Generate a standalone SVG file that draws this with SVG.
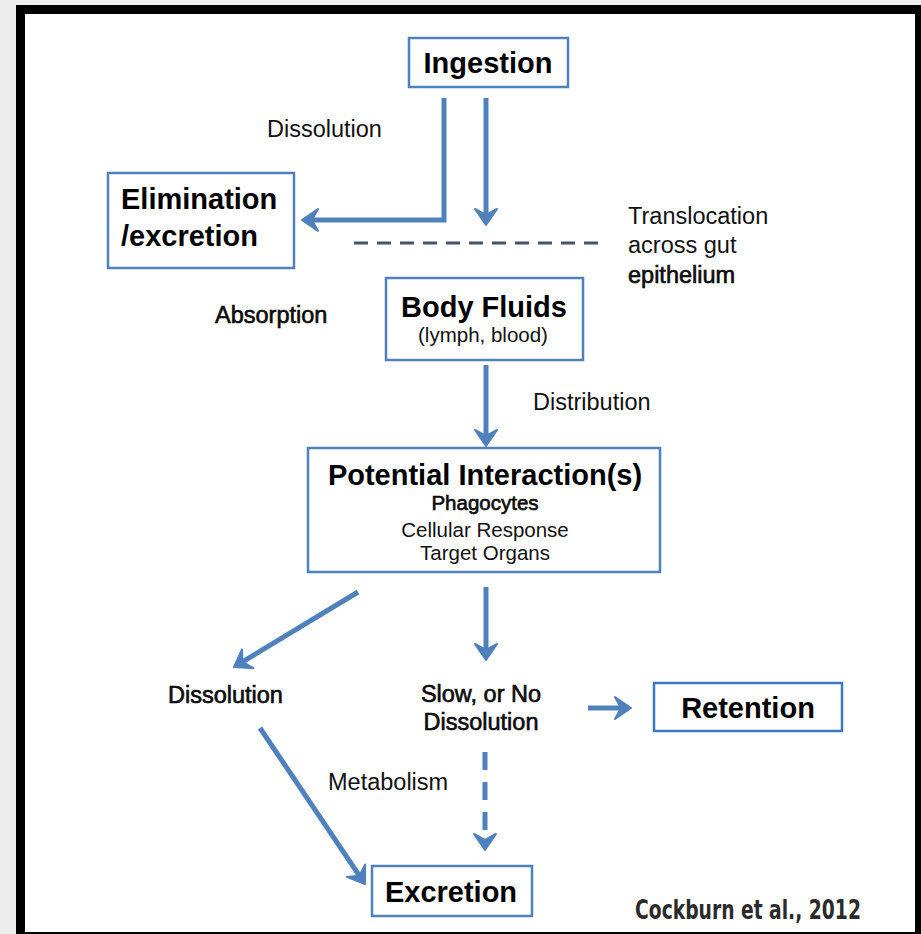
<svg xmlns="http://www.w3.org/2000/svg" width="921" height="934" viewBox="0 0 921 934">
<style>
.box{fill:#fff;stroke:#4f81bd;stroke-width:2.5}
.h{font-family:"Liberation Sans",Arial,sans-serif;font-weight:bold;font-size:29px;fill:#000}
.t{font-family:"Liberation Sans",Arial,sans-serif;font-size:23.5px;fill:#111}
.s{font-family:"Liberation Sans",Arial,sans-serif;font-size:20.5px;fill:#111}
.dk{stroke:#000;stroke-width:0.6}
.c{text-anchor:middle}
.ln{fill:none;stroke:#4f81bd;stroke-width:5}
.dash{stroke-dasharray:18 12}
</style>
<defs>
<marker id="ah" viewBox="-2 -13 20 26" refX="8" refY="0" markerWidth="20" markerHeight="26" markerUnits="userSpaceOnUse" orient="auto">
<path d="M16,0 L0,-11 L6,0 L0,11 Z" fill="#4f81bd" stroke="#4f81bd" stroke-width="2" stroke-linejoin="round"/>
</marker>
</defs>
<rect x="0" y="0" width="921" height="934" fill="#ededed"/>
<rect x="16" y="5" width="905" height="929" fill="#000"/>
<rect x="25" y="14" width="890" height="918" fill="#fff"/>

<g id="connectors">
<path class="ln" d="M444,98 V220 H310" marker-end="url(#ah)"/>
<path class="ln" d="M486,98 V217" marker-end="url(#ah)"/>
<path d="M354,243 H603" fill="none" stroke="#44546a" stroke-width="3" stroke-dasharray="14 9"/>
<path class="ln" d="M486,365 V438" marker-end="url(#ah)"/>
<path class="ln" d="M358,592 L240.8,662.9" marker-end="url(#ah)"/>
<path class="ln" d="M486,587 V652" marker-end="url(#ah)"/>
<path class="ln" d="M588,708 H623" marker-end="url(#ah)"/>
<path class="ln" d="M260,728 L360.5,877.4" marker-end="url(#ah)"/>
<path class="ln dash" d="M485,752 V842" marker-end="url(#ah)"/>
</g>

<g id="ingestion">
<rect class="box" x="409" y="38" width="159" height="49"/>
<text class="h c" x="488" y="73">Ingestion</text>
</g>
<g id="elimination">
<rect class="box" x="108" y="173" width="186" height="95"/>
<text class="h" x="121" y="209">Elimination</text>
<text class="h" x="121" y="246">/excretion</text>
</g>
<g id="body-fluids">
<rect class="box" x="386" y="278" width="197" height="82"/>
<text class="h c" x="484" y="317">Body Fluids</text>
<text class="s c" x="483" y="342">(lymph, blood)</text>
</g>
<g id="potential">
<rect class="box" x="308" y="448" width="352" height="124"/>
<text class="h c" x="485" y="485">Potential Interaction(s)</text>
<text class="s c dk" x="485" y="510">Phagocytes</text>
<text class="s c" x="485" y="537">Cellular Response</text>
<text class="s c" x="485" y="560">Target Organs</text>
</g>
<g id="retention">
<rect class="box" x="654" y="683" width="188" height="48" style="stroke:#3a78c0"/>
<text class="h c" x="748" y="718">Retention</text>
</g>
<g id="excretion">
<rect class="box" x="372" y="866" width="160" height="50"/>
<text class="h c" x="451" y="902">Excretion</text>
</g>

<g id="labels">
<text class="t" x="267" y="137">Dissolution</text>
<text class="t" x="628" y="224">Translocation</text>
<text class="t" x="628" y="253">across gut</text>
<text class="t dk" x="628" y="283">epithelium</text>
<text class="t dk" x="215" y="323">Absorption</text>
<text class="t" x="533" y="410">Distribution</text>
<text class="t dk" x="168" y="703">Dissolution</text>
<text class="t c dk" x="481" y="702">Slow, or No</text>
<text class="t c dk" x="481" y="730">Dissolution</text>
<text class="t" x="328" y="790">Metabolism</text>
<g transform="translate(748,919) scale(0.8,1)">
<text x="0" y="0" text-anchor="middle" style="font-family:'DejaVu Sans Condensed','Liberation Sans',sans-serif;font-weight:bold;font-size:26px;fill:#2b2b2b">Cockburn et al., 2012</text>
</g>
</g>
</svg>
